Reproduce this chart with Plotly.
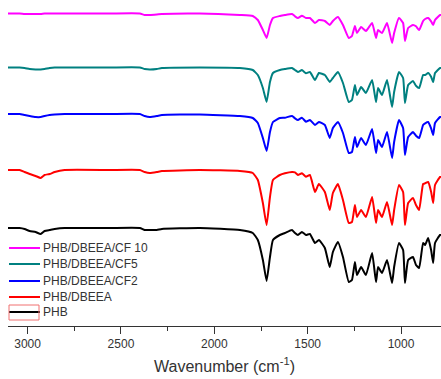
import plotly.graph_objects as go

# Wavenumber positions (cm^-1) shared by all spectra
wavenumber = [3105, 3043, 3016, 2989, 2957, 2930, 2909, 2882, 2855, 2802,
              2560, 2399, 2373, 2346, 2308, 2281, 2078, 1863,
              1794, 1767, 1740, 1720, 1702, 1686, 1649, 1622, 1584, 1568, 1552, 1531, 1509, 1488,
              1461, 1440, 1408, 1382, 1365, 1338, 1311, 1280, 1263, 1247,
              1236, 1214, 1188, 1155, 1134, 1123, 1102, 1075, 1048, 1037,
              1011, 989, 979, 962, 936, 920, 903, 882, 871, 855, 839, 828, 818,
              791, 786]

# Stacked transmittance (a.u.)
phb = [98, 98, 97, 95, 94, 92, 95, 96, 97, 98,
       98, 98, 96, 96, 96, 97, 98, 96,
       93, 86, 66, 45, 69, 86, 91, 93, 96, 93, 91, 94, 91, 92,
       83, 86, 78, 59, 74, 84, 69, 44, 46, 64,
       51, 59, 51, 73, 44, 59, 53, 66, 43, 59,
       83, 76, 43, 66, 69, 61, 58, 83, 81, 88, 76, 63, 83,
       91, 91]
phb_dbeea = [156, 156, 154, 152, 150, 148, 151, 152, 154, 156,
             156, 156, 154, 153, 154, 155, 156, 155,
             153, 146, 123, 101, 129, 146, 151, 152.7, 154, 153.7, 151, 152.7, 149.3, 151,
             134, 142, 134, 116, 133, 142, 126, 103, 104, 121,
             109, 116, 109, 129, 103, 116, 109, 124, 101, 116,
             141, 134, 101, 123, 128, 121, 116, 142, 142.7, 144, 134.3, 123, 141,
             149, 149]
phb_cf2 = [212, 212, 211, 210, 209, 209, 210, 211, 211.5, 212,
           212, 212, 210, 209, 210, 211, 211.5, 210,
           208, 203, 188, 175, 194, 204, 208, 208.3, 210, 207.7, 206, 208.3, 204.3, 206,
           201, 204, 201, 188, 198, 204, 193, 173, 174, 189,
           179, 188, 181, 197, 173, 186, 179, 194, 168, 184,
           206, 198, 171, 189, 194, 190.3, 188, 201, 202.7, 204, 197.7, 191, 203,
           209, 209]
phb_cf5 = [258.5, 258.5, 258, 257, 256.5, 256.5, 257, 258, 258.5, 258.5,
           258.5, 258.5, 257, 256.5, 257, 258, 258.5, 258,
           256, 251, 238, 224, 244, 253, 256, 257, 258, 256, 254, 256, 252.7, 254,
           246, 253, 251, 244, 248, 254, 243, 224, 226, 241,
           231, 239, 233, 246, 224, 238, 231, 246, 219, 234,
           254, 248, 223, 241, 245, 240.3, 238, 251, 251, 253, 249.3, 244, 253,
           258, 258]
phb_cf10 = [312.5, 312.5, 312, 312, 312, 312, 312.5, 312.5, 312.5, 312.5,
            312.5, 312.5, 311, 311, 311.5, 312, 312.5, 311,
            310, 306, 296, 288, 301, 308, 310, 311, 312, 309.7, 308, 310.3, 308, 308,
            303, 306, 305, 301, 305, 309, 301, 288, 290, 300,
            293, 299, 295, 303, 288, 296, 293, 303, 283, 293,
            308, 303, 285, 298, 301, 299.7, 296, 305, 307, 308, 304.7, 301, 306,
            311, 311]

series_names = ["PHB/DBEEA/CF 10", "PHB/DBEEA/CF5", "PHB/DBEEA/CF2", "PHB/DBEEA", "PHB"]
series_values = [phb_cf10, phb_cf5, phb_cf2, phb_dbeea, phb]
series_colors = ["#FF00FF", "#008080", "#0000FF", "#FF0000", "#000000"]

x_ticks = [3000, 2500, 2000, 1500, 1000]

W, H = 441, 379
ML, MR, MT, MB = 8, 0, 0, 53
PW, PH = W - ML - MR, H - MT - MB


def px_x(px):
    return (px - ML) / PW


def px_y(py):
    return (H - MB - py) / PH


fig = go.Figure()
for name, vals, col in zip(series_names, series_values, series_colors):
    fig.add_trace(go.Scatter(x=wavenumber, y=vals, mode="lines", name=name,
                             line=dict(color=col, width=2, shape="spline", smoothing=0.4),
                             showlegend=False, hoverinfo="skip"))

# Manual legend (Origin-style compact spacing)
legend_rows = [248, 264, 281, 297, 312]
for name, col, py in zip(series_names, series_colors, legend_rows):
    fig.add_shape(type="line", xref="paper", yref="paper",
                  x0=px_x(9), x1=px_x(40), y0=px_y(py), y1=px_y(py),
                  line=dict(color=col, width=2))
    fig.add_annotation(xref="paper", yref="paper", x=px_x(41), y=px_y(py),
                       text=name, showarrow=False, xanchor="left", yanchor="middle",
                       font=dict(size=12, color="#333333"))

# Selection box around the PHB legend symbol
fig.add_shape(type="rect", xref="paper", yref="paper",
              x0=px_x(9), x1=px_x(39), y0=px_y(320), y1=px_y(305),
              line=dict(color="#F07070", width=1))

fig.update_layout(
    width=W, height=H,
    margin=dict(l=ML, r=MR, t=MT, b=MB),
    plot_bgcolor="white", paper_bgcolor="white",
    font=dict(family="Arial, Liberation Sans, sans-serif", color="#333333", size=12),
    showlegend=False,
    xaxis=dict(range=[3105, 786], tickvals=x_ticks, ticks="outside", ticklen=7,
               tickcolor="#333333", showline=True, linecolor="#333333", linewidth=1,
               showgrid=False, zeroline=False, tickfont=dict(size=12, color="#333333"),
               minor=dict(dtick=250, ticks="outside", ticklen=4, tickcolor="#333333", showgrid=False),
               title=dict(text="Wavenumber (cm<sup>-1</sup>)", font=dict(size=16, color="#333333"),
                          standoff=10)),
    yaxis=dict(visible=False, range=[0, 326]),
)

fig.write_html("out.html", config={"displayModeBar": False},
               post_script="document.body.style.margin='0px';")
